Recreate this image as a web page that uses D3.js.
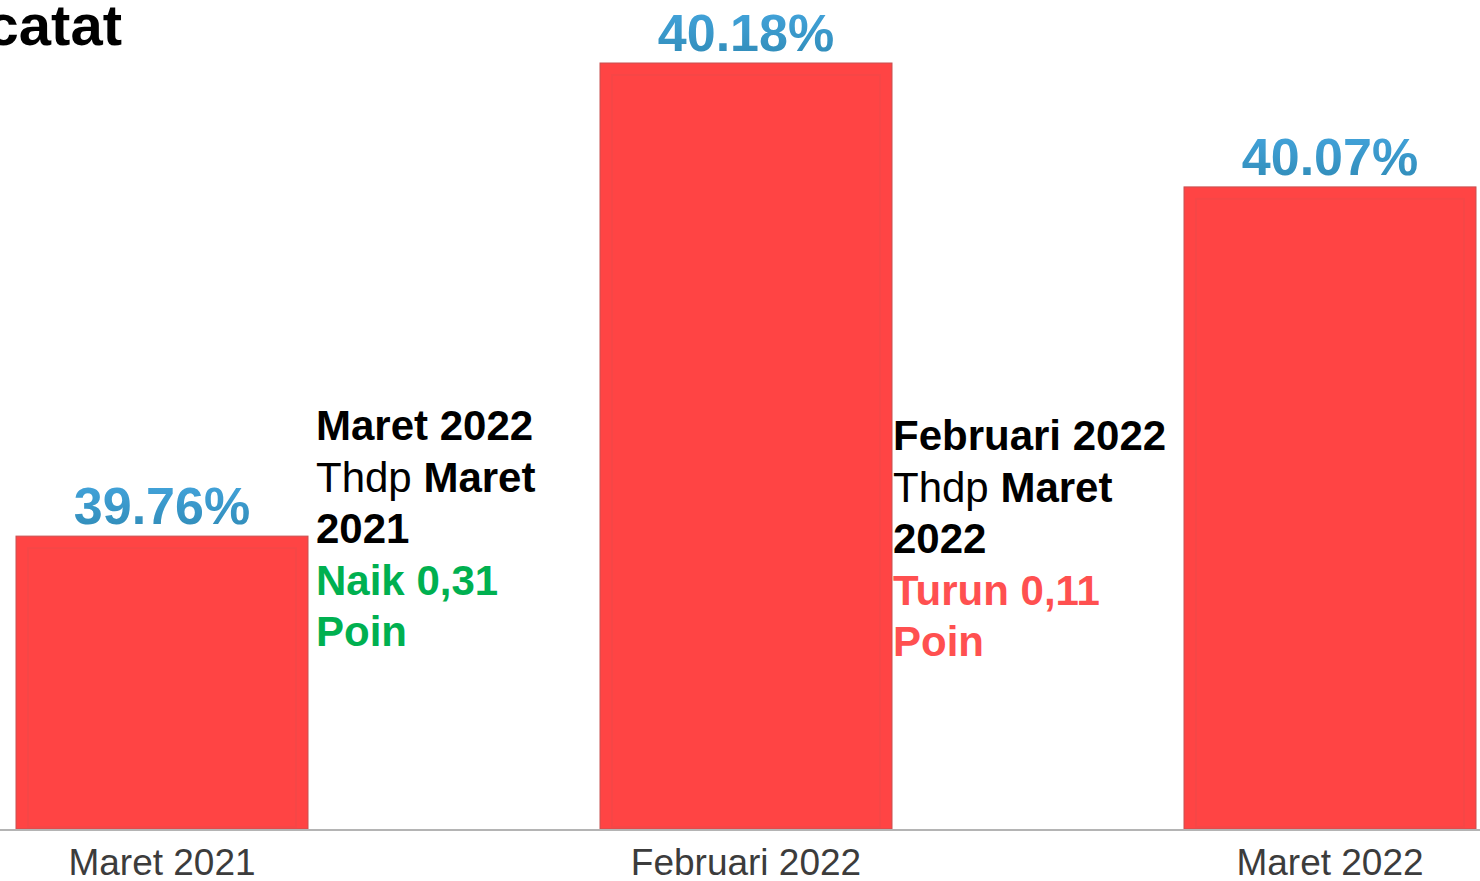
<!DOCTYPE html>
<html>
<head>
<meta charset="utf-8">
<script src="https://cdn.jsdelivr.net/npm/d3@7"></script>
<style>
html,body{margin:0;padding:0;background:#fff;overflow:hidden;}
svg{display:block;font-family:"Liberation Sans",Arial,sans-serif;}
</style>
</head>
<body>
<svg id="chart" width="1480" height="881"></svg>
<script>
// ---- data ----
const categories = ["Maret 2021", "Februari 2022", "Maret 2022"];
const values = [39.76, 40.18, 40.07];
const valueLabels = ["39.76%", "40.18%", "40.07%"];
const titleText = "catat";
// annotation lines: arrays of [text, weight, colour-key] segments
const noteA = [
  [["Maret 2022", "bold", "k"]],
  [["Thdp ", "normal", "k"], ["Maret", "bold", "k"]],
  [["2021", "bold", "k"]],
  [["Naik 0,31", "bold", "up"]],
  [["Poin", "bold", "up"]]
];
const noteB = [
  [["Februari 2022", "bold", "k"]],
  [["Thdp ", "normal", "k"], ["Maret", "bold", "k"]],
  [["2022", "bold", "k"]],
  [["Turun 0,11", "bold", "down"]],
  [["Poin", "bold", "down"]]
];

const W = 1480, H = 881;
const svg = d3.select("#chart");
const colours = {k: "#000000", up: "#00B050", down: "#FF5050"};

const x = d3.scaleBand().domain(categories).range([16, 1476]).paddingInner(0.5).paddingOuter(0);
const y = d3.scaleLinear().domain([39.5, 40.18]).range([829, 63]);

// gradient for value labels
const defs = svg.append("defs");
const g = defs.append("linearGradient").attr("id", "lblGrad").attr("x1", 0).attr("y1", 0).attr("x2", 0).attr("y2", 1);
g.append("stop").attr("offset", "0%").attr("stop-color", "#45a6df");
g.append("stop").attr("offset", "100%").attr("stop-color", "#2f8ab5");

// title fragment (cut at the left edge as in the reference)
svg.append("text").attr("x", 122).attr("y", 45).attr("text-anchor", "end")
  .attr("font-size", 58).attr("font-weight", "bold").attr("fill", "#000").text(titleText);

// bars
svg.selectAll("rect.bar").data(categories).join("rect").attr("class", "bar")
  .attr("x", d => x(d)).attr("width", x.bandwidth())
  .attr("y", (d, i) => y(values[i])).attr("height", (d, i) => y(39.5) - y(values[i]))
  .attr("fill", "#FF4444").attr("stroke", "#c85050").attr("stroke-width", 1);

// subtle inner stripes
svg.selectAll("rect.inner").data(categories).join("rect").attr("class", "inner")
  .attr("x", d => x(d) + 12).attr("width", x.bandwidth() - 24)
  .attr("y", (d, i) => y(values[i]) + 12).attr("height", (d, i) => y(39.5) - y(values[i]) - 14)
  .attr("fill", "none").attr("stroke", "#f04848").attr("stroke-width", 2).attr("opacity", 0.6);

// baseline axis
const xAxis = d3.axisBottom(x).tickSize(0).tickPadding(0);
const ax = svg.append("g").attr("transform", `translate(0,${y(39.5)})`).call(xAxis);
ax.select(".domain").remove();
svg.append("line").attr("x1", 0).attr("x2", W).attr("y1", 830).attr("y2", 830)
  .attr("stroke", "#b4b4b4").attr("stroke-width", 2);
ax.selectAll(".tick text").attr("y", 46).attr("dy", 0)
  .attr("font-size", 37).attr("fill", "#3c3c3c")
  .attr("font-family", "'Liberation Sans', Arial, sans-serif");

// value labels
svg.selectAll("text.val").data(categories).join("text").attr("class", "val")
  .attr("x", d => x(d) + x.bandwidth() / 2).attr("y", (d, i) => y(values[i]) - 12)
  .attr("text-anchor", "middle").attr("font-size", 52).attr("font-weight", "bold")
  .attr("fill", "url(#lblGrad)").text((d, i) => valueLabels[i]);

// annotations
function note(lines, x0, y0) {
  const t = svg.append("text").attr("font-size", 42);
  lines.forEach((segs, li) => {
    segs.forEach((s, si) => {
      const ts = t.append("tspan").text(s[0]).attr("font-weight", s[1]).attr("fill", colours[s[2]]);
      if (si === 0) ts.attr("x", x0).attr("y", y0 + li * 51.5);
    });
  });
}
note(noteA, 316, 440);
note(noteB, 893, 450);
</script>
</body>
</html>
